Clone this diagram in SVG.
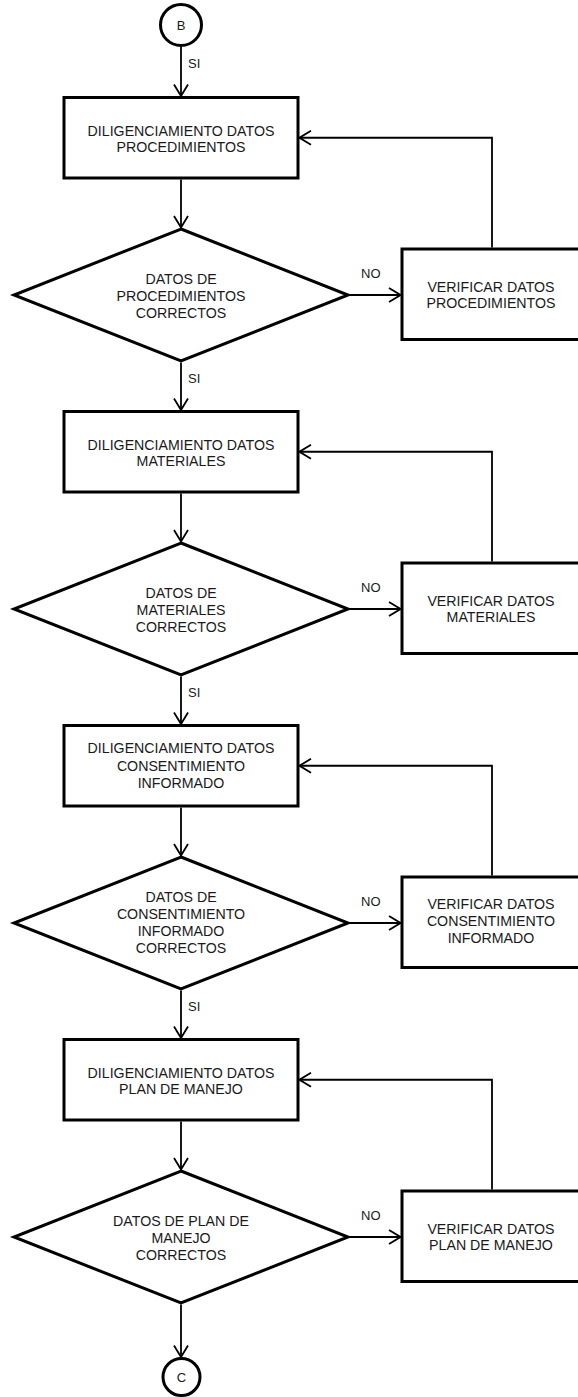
<svg xmlns="http://www.w3.org/2000/svg" width="578" height="1397" viewBox="0 0 578 1397">
<style>
.box{fill:#fff;stroke:#000;stroke-width:3}
.term{fill:#fff;stroke:#000;stroke-width:3}
.edge{fill:none;stroke:#000;stroke-width:1.8}
.t{font-family:"Liberation Sans",Arial,sans-serif;font-size:14.2px;fill:#1a1a1a;text-anchor:middle}
.lbl{font-family:"Liberation Sans",Arial,sans-serif;font-size:13px;fill:#1a1a1a}
.tc{font-family:"Liberation Sans",Arial,sans-serif;font-size:13px;fill:#1a1a1a;text-anchor:middle}
</style>
<defs>
<marker id="arr" markerUnits="userSpaceOnUse" viewBox="0 0 14 16" markerWidth="14" markerHeight="16" refX="12.5" refY="8" orient="auto">
<path d="M1,1 L12.5,8 L1,15" fill="none" stroke="#000" stroke-width="1.8"/>
</marker>
</defs>
<rect width="578" height="1397" fill="#fff"/>

<g id="connectors">
<path class="edge" marker-end="url(#arr)" d="M181,47 V96"/>
<!-- row 0 -->
<path class="edge" marker-end="url(#arr)" d="M181,179.5 V227.5"/>
<path class="edge" marker-end="url(#arr)" d="M349.5,295 H400.5"/>
<path class="edge" marker-end="url(#arr)" d="M492,247.5 V137.75 H299.5"/>
<path class="edge" marker-end="url(#arr)" d="M181,362.5 V410"/>
<!-- row 1 -->
<path class="edge" marker-end="url(#arr)" d="M181,493.5 V541.5"/>
<path class="edge" marker-end="url(#arr)" d="M349.5,609 H400.5"/>
<path class="edge" marker-end="url(#arr)" d="M492,561.5 V451.75 H299.5"/>
<path class="edge" marker-end="url(#arr)" d="M181,676.5 V724"/>
<!-- row 2 -->
<path class="edge" marker-end="url(#arr)" d="M181,807.5 V855.5"/>
<path class="edge" marker-end="url(#arr)" d="M349.5,923 H400.5"/>
<path class="edge" marker-end="url(#arr)" d="M492,875.5 V765.75 H299.5"/>
<path class="edge" marker-end="url(#arr)" d="M181,990.5 V1038"/>
<!-- row 3 -->
<path class="edge" marker-end="url(#arr)" d="M181,1121.5 V1169.5"/>
<path class="edge" marker-end="url(#arr)" d="M349.5,1237 H400.5"/>
<path class="edge" marker-end="url(#arr)" d="M492,1189.5 V1079.75 H299.5"/>
<path class="edge" marker-end="url(#arr)" d="M181,1304.5 V1357"/>
<text class="lbl" x="188" y="67.5">SI</text>
<text class="lbl" x="188" y="382.5">SI</text>
<text class="lbl" x="188" y="696.5">SI</text>
<text class="lbl" x="188" y="1010.5">SI</text>
<text class="lbl" x="361" y="277.5">NO</text>
<text class="lbl" x="361" y="591.5">NO</text>
<text class="lbl" x="361" y="905.5">NO</text>
<text class="lbl" x="361" y="1219.5">NO</text>
</g>

<g id="start-B">
<circle class="term" cx="181" cy="25" r="20.5"/>
<text class="tc" x="181" y="29.7">B</text>
</g>

<g id="proc-procedimientos">
<rect class="box" x="64" y="97.5" width="234" height="80.5"/>
<text class="t" x="181" y="135.5">DILIGENCIAMIENTO DATOS</text>
<text class="t" x="181" y="152">PROCEDIMIENTOS</text>
</g>
<g id="dec-procedimientos">
<polygon class="box" points="181,229 348,295 181,361 14,295"/>
<text class="t" x="181" y="284">DATOS DE</text>
<text class="t" x="181" y="301">PROCEDIMIENTOS</text>
<text class="t" x="181" y="318">CORRECTOS</text>
</g>
<g id="ver-procedimientos">
<rect class="box" x="402" y="249" width="178" height="90.5"/>
<text class="t" x="491" y="291.5">VERIFICAR DATOS</text>
<text class="t" x="491" y="307.5">PROCEDIMIENTOS</text>
</g>

<g id="proc-materiales">
<rect class="box" x="64" y="411.5" width="234" height="80.5"/>
<text class="t" x="181" y="449.5">DILIGENCIAMIENTO DATOS</text>
<text class="t" x="181" y="466">MATERIALES</text>
</g>
<g id="dec-materiales">
<polygon class="box" points="181,543 348,609 181,675 14,609"/>
<text class="t" x="181" y="598">DATOS DE</text>
<text class="t" x="181" y="615">MATERIALES</text>
<text class="t" x="181" y="632">CORRECTOS</text>
</g>
<g id="ver-materiales">
<rect class="box" x="402" y="563" width="178" height="90.5"/>
<text class="t" x="491" y="605.5">VERIFICAR DATOS</text>
<text class="t" x="491" y="621.5">MATERIALES</text>
</g>

<g id="proc-consentimiento">
<rect class="box" x="64" y="725.5" width="234" height="80.5"/>
<text class="t" x="181" y="753">DILIGENCIAMIENTO DATOS</text>
<text class="t" x="181" y="770.5">CONSENTIMIENTO</text>
<text class="t" x="181" y="788">INFORMADO</text>
</g>
<g id="dec-consentimiento">
<polygon class="box" points="181,857 348,923 181,989 14,923"/>
<text class="t" x="181" y="902">DATOS DE</text>
<text class="t" x="181" y="919">CONSENTIMIENTO</text>
<text class="t" x="181" y="936">INFORMADO</text>
<text class="t" x="181" y="953">CORRECTOS</text>
</g>
<g id="ver-consentimiento">
<rect class="box" x="402" y="877" width="178" height="90.5"/>
<text class="t" x="491" y="909">VERIFICAR DATOS</text>
<text class="t" x="491" y="926">CONSENTIMIENTO</text>
<text class="t" x="491" y="943">INFORMADO</text>
</g>

<g id="proc-plan">
<rect class="box" x="64" y="1039.5" width="234" height="80.5"/>
<text class="t" x="181" y="1077.5">DILIGENCIAMIENTO DATOS</text>
<text class="t" x="181" y="1094">PLAN DE MANEJO</text>
</g>
<g id="dec-plan">
<polygon class="box" points="181,1171 348,1237 181,1303 14,1237"/>
<text class="t" x="181" y="1226">DATOS DE PLAN DE</text>
<text class="t" x="181" y="1243">MANEJO</text>
<text class="t" x="181" y="1260">CORRECTOS</text>
</g>
<g id="ver-plan">
<rect class="box" x="402" y="1191" width="178" height="90.5"/>
<text class="t" x="491" y="1234">VERIFICAR DATOS</text>
<text class="t" x="491" y="1250">PLAN DE MANEJO</text>
</g>

<g id="end-C">
<circle class="term" cx="181.5" cy="1377" r="18.5"/>
<text class="tc" x="181.5" y="1381.5">C</text>
</g>
</svg>
